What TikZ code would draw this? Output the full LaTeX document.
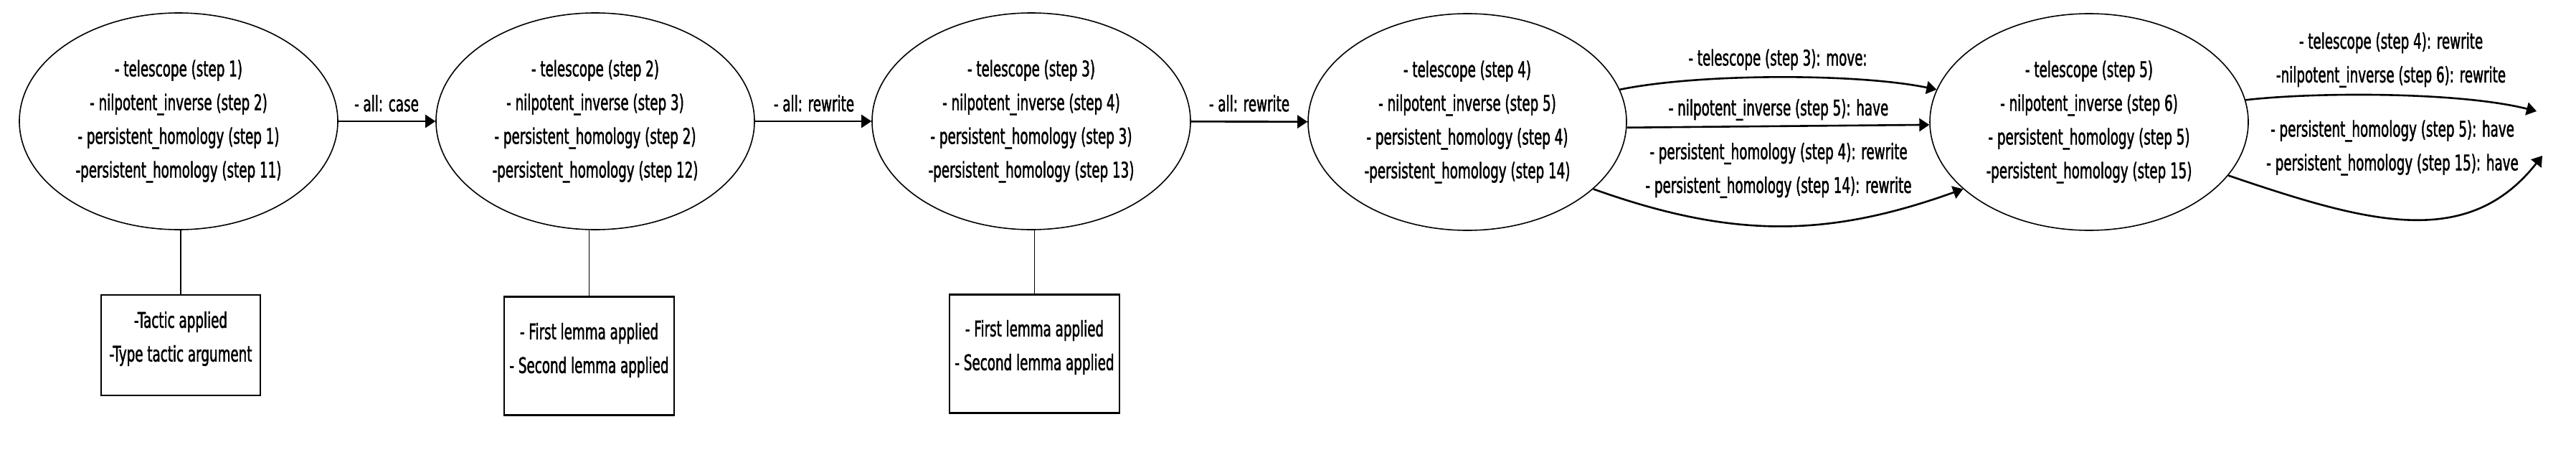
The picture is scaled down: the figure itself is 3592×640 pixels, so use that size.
\documentclass[tikz,border=0pt]{standalone}
\usepackage{fontspec}
\setmainfont{DejaVu Sans}[FakeStretch=0.61,FakeBold=1.5]
\usetikzlibrary{shapes.geometric,arrows.meta}
\begin{document}
\begin{tikzpicture}[x=1pt,y=-1pt,
  every node/.style={font=\fontsize{30pt}{47pt}\selectfont},
  state/.style={ellipse, draw, line width=1.6pt, minimum width=444pt, minimum height=302pt, inner sep=0pt, align=center},
  infobox/.style={rectangle, draw, line width=2.4pt, inner sep=0pt},
  edge/.style={-{Triangle[length=14pt,width=18pt]}, line width=2.6pt},
  link/.style={line width=1.6pt},
  lbl/.style={align=center, inner sep=0pt}]
\useasboundingbox (0,0) rectangle (3592,640);
\fill[white] (0,0) rectangle (3592,640);

% states
\node[state] (e1) at (249,169) {- telescope (step 1)\\- nilpotent\_inverse (step 2)\\- persistent\_homology (step 1)\\-persistent\_homology (step 11)};
\node[state] (e2) at (830,169) {- telescope (step 2)\\- nilpotent\_inverse (step 3)\\- persistent\_homology (step 2)\\-persistent\_homology (step 12)};
\node[state] (e3) at (1438,169) {- telescope (step 3)\\- nilpotent\_inverse (step 4)\\- persistent\_homology (step 3)\\-persistent\_homology (step 13)};
\node[state] (e4) at (2046,170) {- telescope (step 4)\\- nilpotent\_inverse (step 5)\\- persistent\_homology (step 4)\\-persistent\_homology (step 14)};
\node[state] (e5) at (2913,170) {- telescope (step 5)\\- nilpotent\_inverse (step 6)\\- persistent\_homology (step 5)\\-persistent\_homology (step 15)};

% info boxes
\node[infobox, minimum width=222pt, minimum height=140pt,
  label={[lbl,yshift=9pt]center:{-Tactic applied\\-Type tactic argument}}] (b1) at (252,481) {};
\node[infobox, minimum width=237pt, minimum height=165pt,
  label={[lbl,yshift=8pt]center:{- First lemma applied\\- Second lemma applied}}] (b2) at (821.5,496) {};
\node[infobox, minimum width=237pt, minimum height=165pt,
  label={[lbl,yshift=9pt]center:{- First lemma applied\\- Second lemma applied}}] (b3) at (1442.5,493) {};

\draw[link] (b1.north) -- (b1.north |- e1.south);
\draw[link] (b2.north) -- (b2.north |- e2.south);
\draw[link] (b3.north) -- (b3.north |- e3.south);

% straight edges
\draw[edge] (e1) -- (e2);
\draw[edge] (e2) -- (e3);
\draw[edge] (e3) -- (e4);
\node[lbl] at (539,144) {- all: case};
\node[lbl] at (1135,144) {- all: rewrite};
\node[lbl] at (1742,144) {- all: rewrite};

% edges 4 -> 5
\draw[edge] (e4.12) .. controls (2370,102) and (2590,102) .. (e5.168);
\draw[edge] (e4.-2) -- (e5.181);
\draw[edge] (e4.-28) .. controls (2414,332) and (2546,332) .. (e5.-152);
\node[lbl] at (2479,83) {- telescope (step 3): move:};
\node[lbl] at (2480,153) {- nilpotent\_inverse (step 5): have};
\node[lbl] at (2480,237.5) {- persistent\_homology (step 4): rewrite\\- persistent\_homology (step 14): rewrite};

% outgoing edges of 5
\coordinate (o1) at (3537,155);
\coordinate (o2) at (3545,217);
\draw[edge] (e5.8) .. controls (3230,128) and (3430,128) .. (o1);
\draw[edge] (e5.-21) .. controls (3300,310) and (3440,350) .. (o2);
\node[lbl] at (3334,83.5) {- telescope (step 4): rewrite\\-nilpotent\_inverse (step 6): rewrite};
\node[lbl] at (3336,206) {- persistent\_homology (step 5): have\\- persistent\_homology (step 15): have};
\end{tikzpicture}
\end{document}
